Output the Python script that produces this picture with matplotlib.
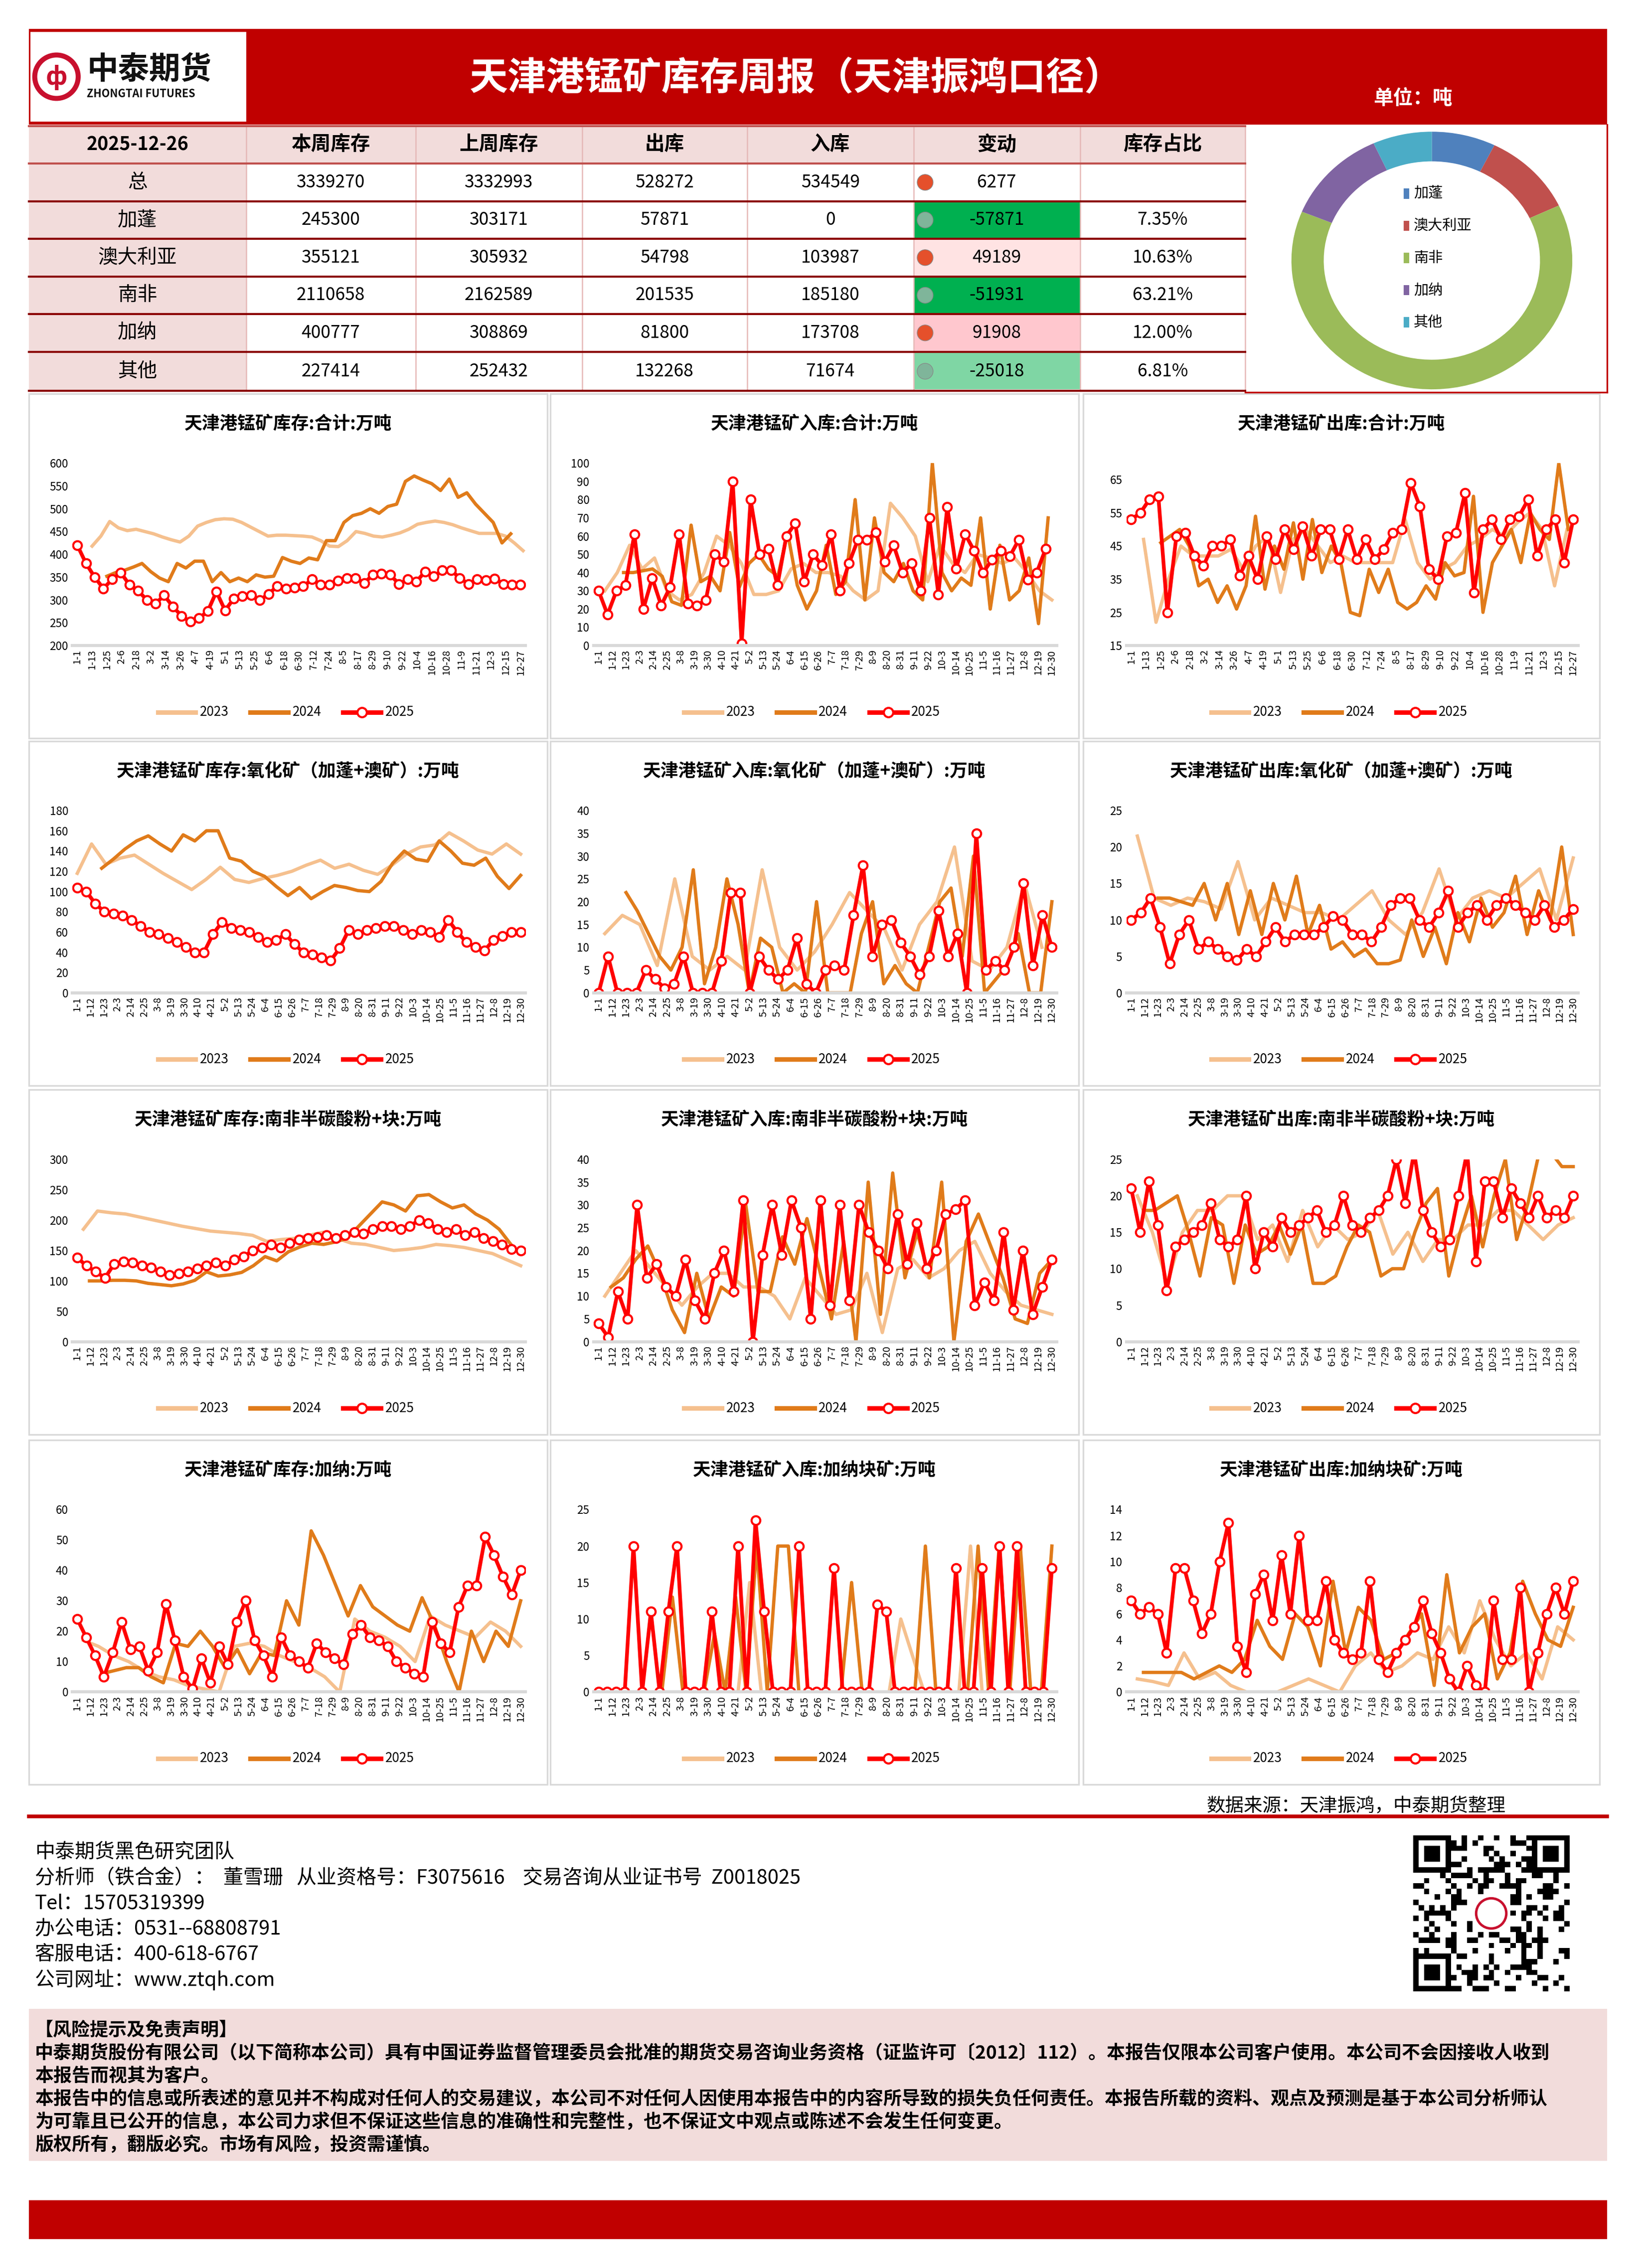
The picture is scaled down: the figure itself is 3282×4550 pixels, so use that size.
import datetime as dt
import numpy as np
import matplotlib
matplotlib.use("Agg")
import matplotlib.pyplot as plt
from matplotlib.patches import Rectangle, Circle

plt.rcParams['font.family'] = ['Noto Sans CJK SC', 'DejaVu Sans']

nan = np.nan
# ---------------- table data ----------------
report_date = "2025-12-26"
col_headers = ["本周库存", "上周库存", "出库", "入库", "变动", "库存占比"]
row_labels = ["总", "加蓬", "澳大利亚", "南非", "加纳", "其他"]
this_week = [3339270, 245300, 355121, 2110658, 400777, 227414]
last_week = [3332993, 303171, 305932, 2162589, 308869, 252432]
outflow = [528272, 57871, 54798, 201535, 81800, 132268]
inflow = [534549, 0, 103987, 185180, 173708, 71674]
change = [6277, -57871, 49189, -51931, 91908, -25018]
share = ["", "7.35%", "10.63%", "63.21%", "12.00%", "6.81%"]
donut_labels = ["加蓬", "澳大利亚", "南非", "加纳", "其他"]
donut_values = [7.35, 10.63, 63.21, 12.00, 6.81]
donut_colors = ["#4F81BD", "#C0504D", "#9BBB59", "#8064A2", "#4BACC6"]

# ---------------- chart data (万吨) ----------------
inv_total_2023 = [418,440,472,458,452,455,450,445,438,432,427,440,462,470,476,478,477,470,460,450,440,442,442,441,440,438,430,418,417,430,450,446,440,438,442,447,455,466,470,473,470,465,458,452,446,446,446,440,425,408]
inv_total_2024 = [352,360,365,372,380,362,348,340,380,370,385,385,340,360,340,348,340,355,350,352,393,385,380,392,388,430,430,470,485,490,500,490,505,510,560,572,563,555,540,565,525,535,510,490,470,425,445]
inv_total_2025 = [420,380,350,325,345,360,333,320,300,292,310,285,265,252,260,275,318,277,303,308,310,300,313,330,325,327,330,345,333,333,342,348,348,337,355,358,355,335,345,340,362,352,365,365,348,335,345,343,347,335,333,333]

in_total_2023 = [30,40,55,42,48,30,25,28,40,60,55,45,28,28,30,42,45,40,40,38,30,25,30,78,70,60,35,55,45,40,50,48,45,48,40,30,25]
in_total_2024 = [40,40,41,42,38,24,22,66,35,38,30,62,32,45,50,42,38,62,33,20,30,55,28,35,80,25,70,40,35,45,30,25,100,40,30,37,33,70,20,55,25,30,48,12,70]
in_total_2025 = [30,17,30,33,61,20,37,22,32,61,23,22,25,50,46,90,1,80,50,53,33,60,67,35,50,44,61,30,45,58,58,62,46,55,40,45,30,70,28,76,42,61,52,40,47,52,49,58,36,40,53]

out_total_2023 = [47,22,35,45,42,42,42,44,38,45,48,31,47,50,45,40,42,40,40,40,40,53,40,35,38,40,45,47,50,48,52,55,50,33,50]
out_total_2024 = [46,48,50,45,33,35,28,33,26,33,54,32,45,38,52,35,53,37,45,40,25,24,38,31,38,28,26,28,33,29,40,36,37,60,25,40,45,50,40,55,50,47,70,50]
out_total_2025 = [53,55,59,60,25,48,49,42,39,45,45,47,36,42,35,48,41,50,44,51,42,50,50,41,50,41,47,41,44,49,50,64,57,38,35,48,49,61,31,50,53,47,53,54,59,42,50,53,40,53]

inv_oxide_2023 = [118,147,127,133,136,127,118,110,102,112,124,112,109,113,116,120,126,131,123,127,121,117,126,137,144,146,158,150,141,137,147,137]
inv_oxide_2024 = [123,132,142,150,155,147,140,156,150,160,160,133,130,120,115,105,96,104,93,100,106,104,101,100,110,128,140,132,130,150,140,128,126,133,115,103,116]
inv_oxide_2025 = [104,100,88,80,78,76,72,66,60,58,54,50,45,40,40,58,70,64,62,60,55,50,52,58,48,40,38,35,32,44,62,58,62,64,66,66,62,58,62,60,55,72,60,50,45,42,52,56,60,60]

in_oxide_2023 = [13,17,15,6,25,8,5,8,5,27,10,5,9,15,22,18,14,5,15,20,32,7,5,10,24,10]
in_oxide_2024 = [22,18,13,8,5,10,27,2,10,25,15,0,12,10,0,2,0,20,0,0,0,13,20,2,6,2,0,10,20,23,8,30,0,3,6,13,0,0,20]
in_oxide_2025 = [0,8,0,0,0,5,3,1,2,8,0,0,0,7,22,22,0,8,5,3,5,12,2,0,5,6,5,17,28,8,15,16,11,8,4,8,18,8,13,0,35,5,7,5,10,24,6,17,10]

out_oxide_2023 = [21.5,13,12,13,12.5,11.5,18,10,13,12,11,11,10,12,14,10,8,11,17,10,13,14,13,15,17,10,18.5]
out_oxide_2024 = [13,13,12.5,12,15,10,15,8,14,8,15,10,16,8,12,6,7,5,6,4,4,4.5,10,5,9,4,11,7,13,9,11,16,8,14,10,20,8]
out_oxide_2025 = [10,11,13,9,4,8,10,6,7,6,5,4.5,6,5,7,9,7,8,8,8,9,10.5,10,8,8,7,9,12,13,13,10,9,11,14,9,11,12,10,12,13,12,11,10,12,9,10,11.5]

inv_sa_2023 = [185,215,212,210,205,200,195,190,186,182,180,178,175,165,168,170,175,180,170,162,160,155,150,152,155,160,158,155,150,145,135,125]
inv_sa_2024 = [100,100,101,101,100,96,94,92,95,101,115,108,110,114,125,140,133,148,156,162,160,164,170,190,210,230,225,215,240,242,230,220,225,210,200,185,160]
inv_sa_2025 = [138,125,115,105,128,132,130,125,122,115,110,112,115,120,125,130,125,135,140,150,155,160,155,162,168,170,172,175,170,175,180,178,185,190,190,185,190,200,195,185,180,185,175,180,170,165,160,152,150]

in_sa_2023 = [10,15,20,16,12,8,12,15,15,12,12,10,5,14,10,6,7,15,2,16,18,14,16,20,22,15,11,8,7,6]
in_sa_2024 = [12,14,18,21,15,7,2,15,5,12,10,30,11,11,23,17,27,16,5,22,0,35,6,37,14,24,14,35,0,22,28,21,14,5,4,15,18]
in_sa_2025 = [4,1,11,5,30,14,17,12,10,18,9,5,15,20,11,31,0,19,30,19,31,25,5,31,8,30,9,30,24,20,16,28,17,26,16,20,28,29,31,8,13,9,24,7,20,6,12,18]

out_sa_2023 = [20,15,8,15,18,18,20,20,14,16,11,18,13,16,14,15,18,12,15,11,14,14,16,16,18,18,16,14,16,17]
out_sa_2024 = [18,18,19,20,15,9,17,16,8,16,12,13,16,12,16,8,8,9,13,16,15,9,10,10,15,19,21,9,15,20,13,20,25,14,19,26,26,24,24]
out_sa_2025 = [21,15,22,16,7,13,14,15,16,19,14,13,14,20,10,15,13,17,15,16,17,18,15,16,20,16,15,17,18,20,25,19,26,18,15,13,14,20,26,11,22,22,17,21,19,17,20,17,18,17,20]

inv_gh_2023 = [17,15,12,10,7,5,4,2,1,0,15,16,15,12,10,8,5,0,24,20,18,15,10,25,22,20,18,23,20,15]
inv_gh_2024 = [6,7,8,8,5,3,16,15,20,15,8,14,6,13,12,30,22,53,45,35,25,35,28,25,22,20,31,22,10,0,20,10,20,15,30]
inv_gh_2025 = [24,18,12,5,13,23,14,15,7,13,29,17,5,1,11,3,15,9,23,30,17,12,5,18,12,10,8,16,13,11,9,19,22,18,17,15,10,8,6,5,23,16,13,28,35,35,51,45,38,32,40]

in_gh_2023 = [0,0,0,0,0,0,0,0,0,0,0,0,0,15,0,0,0,0,0,0,0,0,0,0,0,0,10,5,0,0,0,0,20,0,0,0,0,0,0,0]
in_gh_2024 = [0,0,0,0,0,0,0,13,0,0,0,8,0,13,0,20,0,20,20,0,0,0,0,0,15,0,0,0,0,0,0,20,0,0,0,0,20,0,20,0,20,0,0,20]
in_gh_2025 = [0,0,0,0,20,0,11,0,11,20,0,0,0,11,0,0,20,0,23.5,11,0,0,0,20,0,0,0,17,0,0,0,0,12,11,0,0,0,0,0,0,0,17,0,0,17,0,20,0,20,0,0,0,17]

out_gh_2023 = [1,0.8,0.5,3,1,1.5,0.5,0,0,0,0.5,1,0.5,0,2,3,1.5,2,3,2.5,5,3,7,4,2,3,1,5,4]
out_gh_2024 = [1.5,1.5,1.5,1.5,1,1.5,2,1.5,2.5,5.5,3.5,2.5,6,5,2,8.5,3,6.5,5.5,2.5,3,4.5,6,0.5,9,3,5,6,1,3,8.5,6,4,3.5,6.5]
out_gh_2025 = [7,6,6.5,6,3,9.5,9.5,7,4.5,6,10,13,3.5,1.5,7.5,9,5.5,10.5,6,12,5.5,5.5,8.5,4,3,2.5,3,8.5,2.5,1.5,3,4,5,7,4.5,3,1,0,2,0.5,0,7,2.5,2.5,8,0,3,6,8,6,8.5]

years = ["2023", "2024", "2025"]

charts = [
    dict(title="天津港锰矿库存:合计:万吨", data=[inv_total_2023, inv_total_2024, inv_total_2025], span=[(12, 362), (24, 352), (0, 360)], ylim=(200, 600), yt=50, step=12, xmax=360),
    dict(title="天津港锰矿入库:合计:万吨", data=[in_total_2023, in_total_2024, in_total_2025], span=[(5, 363), (20, 360), (0, 358)], ylim=(0, 100), yt=10, step=11, xmax=363),
    dict(title="天津港锰矿出库:合计:万吨", data=[out_total_2023, out_total_2024, out_total_2025], span=[(10, 355), (24, 356), (0, 360)], ylim=(15, 70), yt=10, step=12, xmax=360, ytop=65),
    dict(title="天津港锰矿库存:氧化矿（加蓬+澳矿）:万吨", data=[inv_oxide_2023, inv_oxide_2024, inv_oxide_2025], span=[(0, 363), (20, 363), (0, 363)], ylim=(0, 180), yt=20, step=11, xmax=363),
    dict(title="天津港锰矿入库:氧化矿（加蓬+澳矿）:万吨", data=[in_oxide_2023, in_oxide_2024, in_oxide_2025], span=[(5, 355), (22, 363), (0, 363)], ylim=(0, 40), yt=5, step=11, xmax=363),
    dict(title="天津港锰矿出库:氧化矿（加蓬+澳矿）:万吨", data=[out_oxide_2023, out_oxide_2024, out_oxide_2025], span=[(5, 363), (22, 363), (0, 363)], ylim=(0, 25), yt=5, step=11, xmax=363),
    dict(title="天津港锰矿库存:南非半碳酸粉+块:万吨", data=[inv_sa_2023, inv_sa_2024, inv_sa_2025], span=[(5, 363), (10, 355), (0, 363)], ylim=(0, 300), yt=50, step=11, xmax=363),
    dict(title="天津港锰矿入库:南非半碳酸粉+块:万吨", data=[in_sa_2023, in_sa_2024, in_sa_2025], span=[(5, 363), (10, 363), (0, 363)], ylim=(0, 40), yt=5, step=11, xmax=363),
    dict(title="天津港锰矿出库:南非半碳酸粉+块:万吨", data=[out_sa_2023, out_sa_2024, out_sa_2025], span=[(5, 363), (10, 363), (0, 363)], ylim=(0, 25), yt=5, step=11, xmax=363),
    dict(title="天津港锰矿库存:加纳:万吨", data=[inv_gh_2023, inv_gh_2024, inv_gh_2025], span=[(5, 363), (20, 363), (0, 363)], ylim=(0, 60), yt=10, step=11, xmax=363),
    dict(title="天津港锰矿入库:加纳块矿:万吨", data=[in_gh_2023, in_gh_2024, in_gh_2025], span=[(0, 363), (0, 363), (0, 363)], ylim=(0, 25), yt=5, step=11, xmax=363),
    dict(title="天津港锰矿出库:加纳块矿:万吨", data=[out_gh_2023, out_gh_2024, out_gh_2025], span=[(5, 363), (10, 363), (0, 363)], ylim=(0, 14), yt=2, step=11, xmax=363),
]

W, H = 1130.0, 1567.0
fig = plt.figure(figsize=(3282 / 300, 4550 / 300), dpi=300)
bg = fig.add_axes([0, 0, 1, 1])
bg.set_xlim(0, W)
bg.set_ylim(H, 0)
bg.axis("off")

def fr(x, y, w, h):
    return [x / W, 1 - (y + h) / H, w / W, h / H]

RED = "#C00000"
PINK = "#F2DCDB"
# header
bg.add_patch(Rectangle((20, 20), 1090, 66, fc=RED, ec="none"))
bg.add_patch(Rectangle((21, 22), 149, 62, fc="white", ec="none"))
bg.add_patch(Circle((39, 53), 15, fc="none", ec="#C8102E", lw=2.4))
bg.text(39, 53.5, "ф", color="#C8102E", ha="center", va="center", fontsize=12, fontweight="bold")
bg.text(60, 48, "中泰期货", color="#111", fontsize=15, fontweight="bold", va="center")
bg.text(60, 65, "ZHONGTAI FUTURES", color="#111", fontsize=5.2, fontweight="bold", va="center")
bg.text(550, 54, "天津港锰矿库存周报（天津振鸿口径）", color="white", fontsize=18.5, fontweight="bold", ha="center", va="center")
bg.text(976, 68, "单位：吨", color="white", fontsize=9.5, fontweight="bold", ha="center", va="center")

# table
cx = [20, 170, 287, 402, 516, 631, 746, 860]
ry = [87, 113, 139, 165, 191, 217, 243, 270]
bg.add_patch(Rectangle((20, 87), 840, 26, fc=PINK, ec="none"))
bg.add_patch(Rectangle((20, 87), 150, 183, fc=PINK, ec="none"))
chg_fill = ["white", "#00B050", "#FFE3E3", "#00B050", "#FFC7CE", "#7FD6A4"]
for i in range(6):
    bg.add_patch(Rectangle((cx[5], ry[i + 1]), cx[6] - cx[5], 26, fc=chg_fill[i], ec="none"))
for x in cx[1:]:
    bg.plot([x, x], [87, 270], color="#E6B8B7", lw=0.6)
for k, y in enumerate(ry):
    bg.plot([20, 860], [y, y], color="#8B0000" if k > 1 else "#C0504D", lw=1.0)
bg.text(95, 100, report_date, ha="center", va="center", fontsize=9, fontweight="bold")
for j, h in enumerate(col_headers):
    bg.text((cx[j + 1] + cx[j + 2]) / 2, 100, h, ha="center", va="center", fontsize=9.5, fontweight="bold")
for i in range(6):
    yc = (ry[i + 1] + ry[i + 2]) / 2
    bg.text(95, yc, row_labels[i], ha="center", va="center", fontsize=9.5)
    vals = [this_week[i], last_week[i], outflow[i], inflow[i]]
    for j, v in enumerate(vals):
        bg.text((cx[j + 1] + cx[j + 2]) / 2, yc, f"{v}", ha="center", va="center", fontsize=8.5)
    dotc = "#E5502B" if change[i] > 0 else "#7FB59A"
    bg.add_patch(Circle((639, yc), 5.5, fc=dotc, ec="#888", lw=0.3))
    bg.text((cx[5] + cx[6]) / 2, yc, f"{change[i]}", ha="center", va="center", fontsize=8.5)
    bg.text((cx[6] + cx[7]) / 2, yc, share[i], ha="center", va="center", fontsize=8.5)
bg.plot([1110, 1110], [86, 271], color=RED, lw=0.8)
bg.plot([860, 1110], [271, 271], color=RED, lw=0.8)

# donut
dax = fig.add_axes(fr(892, 91, 194, 178))
dax.pie(donut_values, colors=donut_colors, startangle=90, counterclock=False,
        wedgeprops=dict(width=0.23, edgecolor="none"))
dax.set_aspect("auto")
dax.set_xlim(-1, 1)
dax.set_ylim(-1, 1)
for k, lab in enumerate(donut_labels):
    yy = 0.52 - k * 0.25
    dax.add_patch(Rectangle((-0.2, yy - 0.04), 0.04, 0.08, fc=donut_colors[k], ec="none"))
    dax.text(-0.13, yy, lab, fontsize=7, va="center")

# charts
col_x = [20, 380, 748]
col_w = [358, 365, 357]
row_y = [272, 512, 753, 995]
ph = 238
c_years = ["#F5C08E", "#E07B1A", "#FF0000"]
base = dt.date(2025, 1, 1)
for n, c in enumerate(charts):
    r, k = divmod(n, 3)
    x0, y0, w = col_x[k], row_y[r], col_w[k]
    bg.add_patch(Rectangle((x0, y0), w, ph, fc="white", ec="#D9D9D9", lw=0.8))
    bg.text(x0 + w / 2, y0 + 21, c["title"], ha="center", va="center", fontsize=8.6, fontweight="bold")
    ax = fig.add_axes(fr(x0 + 30, y0 + 48, w - 45, 126))
    for yi in range(3):
        vals = np.array(c["data"][yi], dtype=float)
        s, e = c["span"][yi]
        xs = np.linspace(s, e, len(vals))
        if yi < 2:
            ax.plot(xs, vals, color=c_years[yi], lw=1.6, solid_joinstyle="round")
        else:
            ax.plot(xs, vals, color=c_years[yi], lw=1.8, marker="o", ms=4.2,
                    mfc="white", mec="#FF0000", mew=1.0)
    lo, hi = c["ylim"]
    ax.set_ylim(lo, hi)
    ytop = c.get("ytop", hi)
    ax.set_yticks(np.arange(lo, ytop + 0.01, c["yt"]))
    ax.set_xlim(-4, c["xmax"] + 4)
    ticks = list(range(0, c["xmax"] + 1, c["step"]))
    labs = [f"{(base + dt.timedelta(days=d)).month}-{(base + dt.timedelta(days=d)).day}" for d in ticks]
    ax.set_xticks(ticks)
    ax.set_xticklabels(labs, rotation=90, fontsize=4.8)
    ax.tick_params(axis="y", labelsize=5.4, length=0, pad=2)
    ax.tick_params(axis="x", length=0, pad=2)
    for sp in ["top", "right", "left"]:
        ax.spines[sp].set_visible(False)
    ax.spines["bottom"].set_color("#D9D9D9")
    ax.spines["bottom"].set_linewidth(1.5)
    ax.patch.set_alpha(0)
    # legend
    lx = x0 + w / 2 - 90
    ly = y0 + 220
    for yi in range(3):
        xx = lx + yi * 64
        bg.plot([xx, xx + 26], [ly, ly], color=c_years[yi], lw=2.2)
        if yi == 2:
            bg.plot([xx + 13], [ly], marker="o", ms=4.5, mfc="white", mec="#FF0000", mew=1)
        bg.text(xx + 29, ly, years[yi], fontsize=6.3, va="center")

# source + red line
bg.text(1040, 1248, "数据来源：天津振鸿，中泰期货整理", ha="right", va="center", fontsize=9)
bg.plot([20, 1110], [1255, 1255], color=RED, lw=1.8)

footer = ["中泰期货黑色研究团队",
          "分析师（铁合金）：  董雪珊   从业资格号：F3075616    交易咨询从业证书号  Z0018025",
          "Tel：15705319399",
          "办公电话：0531--68808791",
          "客服电话：400-618-6767",
          "公司网址：www.ztqh.com"]
for i, t in enumerate(footer):
    bg.text(24, 1280 + i * 17.6, t, va="center", fontsize=9.6)

# QR-like block
qa = fig.add_axes(fr(976, 1268, 108, 108))
N = 29
ii, jj = np.meshgrid(np.arange(N), np.arange(N))
q = (((ii * 7 + jj * 13) ^ (ii * jj)) % 3 == 0).astype(float)
for (a, b) in [(0, 0), (0, N - 7), (N - 7, 0)]:
    q[a:a + 7, b:b + 7] = 1
    q[a + 1:a + 6, b + 1:b + 6] = 0
    q[a + 2:a + 5, b + 2:b + 5] = 1
q[11:18, 11:18] = 0
qa.imshow(q, cmap="Greys", interpolation="nearest")
qa.add_patch(Circle((14, 14), 2.8, fc="white", ec="#C8102E", lw=1.2))
qa.axis("off")

# disclaimer
bg.add_patch(Rectangle((20, 1388), 1090, 105, fc=PINK, ec="none"))
disc = ["【风险提示及免责声明】",
        "中泰期货股份有限公司（以下简称本公司）具有中国证券监督管理委员会批准的期货交易咨询业务资格（证监许可〔2012〕112）。本报告仅限本公司客户使用。本公司不会因接收人收到",
        "本报告而视其为客户。",
        "本报告中的信息或所表述的意见并不构成对任何人的交易建议，本公司不对任何人因使用本报告中的内容所导致的损失负任何责任。本报告所载的资料、观点及预测是基于本公司分析师认",
        "为可靠且已公开的信息，本公司力求但不保证这些信息的准确性和完整性，也不保证文中观点或陈述不会发生任何变更。",
        "版权所有，翻版必究。市场有风险，投资需谨慎。"]
for i, t in enumerate(disc):
    bg.text(24, 1403 + i * 15.8, t, va="center", fontsize=8.9, fontweight="bold")

bg.add_patch(Rectangle((20, 1520), 1090, 27, fc=RED, ec="none"))

fig.savefig("out.png", dpi=300, facecolor="white")
